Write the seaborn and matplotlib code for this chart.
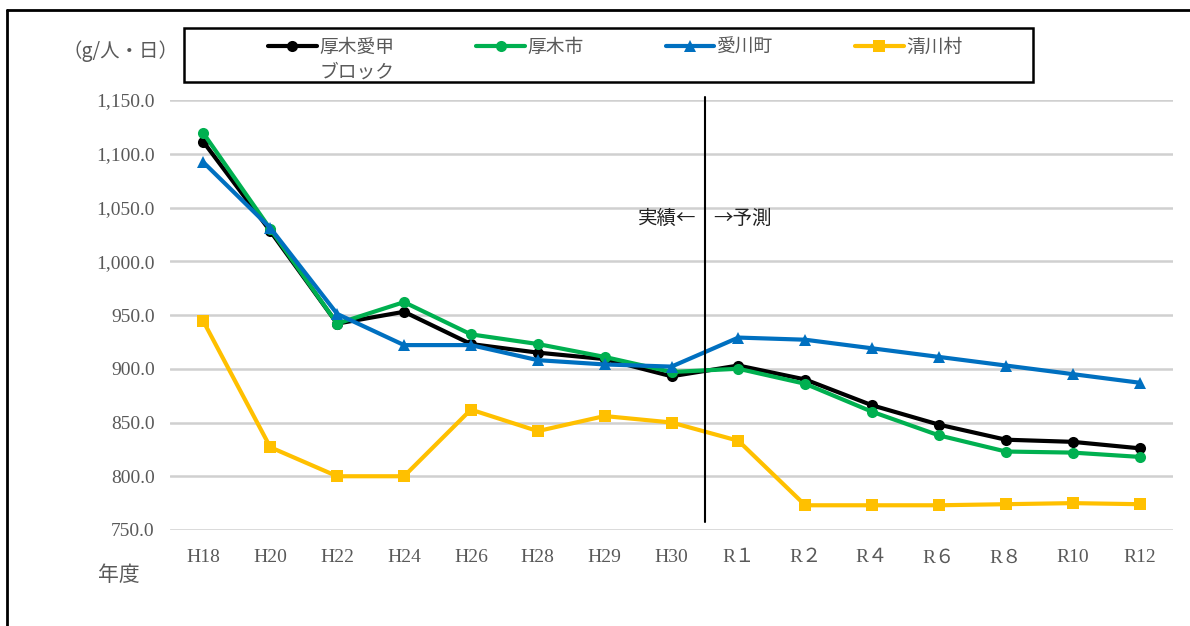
import matplotlib
matplotlib.use("Agg")
import matplotlib.pyplot as plt
import seaborn as sns
import pandas as pd
from matplotlib.lines import Line2D
from matplotlib.patches import Rectangle

years = ["H18", "H20", "H22", "H24", "H26", "H28", "H29", "H30",
         "R１", "R２", "R４", "R６", "R８", "R10", "R12"]
atsugi_aiko = [1111, 1028, 942, 953, 923, 915, 909, 893, 903, 890, 866, 848, 834, 832, 826]
atsugi_city = [1119, 1030, 942, 962, 932, 923, 911, 897, 900, 886, 860, 838, 823, 822, 818]
aikawa = [1092, 1031, 951, 922, 922, 908, 904, 902, 929, 927, 919, 911, 903, 895, 887]
kiyokawa = [944, 827, 800, 800, 862, 842, 856, 850, 833, 773, 773, 773, 774, 775, 774]
series_names = ["厚木愛甲\nブロック", "厚木市", "愛川町", "清川村"]
yticks = [750, 800, 850, 900, 950, 1000, 1050, 1100, 1150]

colors = ["#000000", "#00B050", "#0070C0", "#FFC000"]
markers = ["o", "o", "^", "s"]

rows = []
for name, vals in zip(series_names, [atsugi_aiko, atsugi_city, aikawa, kiyokawa]):
    for i, v in enumerate(vals):
        rows.append({"idx": i, "value": v, "series": name})
df = pd.DataFrame(rows)

sns.set_theme(style="white")
plt.rcParams["font.family"] = ["Noto Sans CJK JP", "DejaVu Sans"]
serif = ["Liberation Serif", "Noto Sans CJK JP"]

fig = plt.figure(figsize=(11.9, 6.26), dpi=100)
W, H = 1190, 626
ax = fig.add_axes([170 / W, 1 - 530 / H, (1173 - 170) / W, (530 - 100) / H])

sns.lineplot(data=df, x="idx", y="value", hue="series", style="series",
             palette=dict(zip(series_names, colors)),
             markers=dict(zip(series_names, markers)), dashes=False,
             linewidth=3, markersize=8, markeredgewidth=0, ax=ax, legend=False)

ax.set_xlim(-0.5, len(years) - 0.5)
ax.set_ylim(750, 1150)
ax.set_yticks(yticks)
ax.set_yticklabels([f"{v:,.1f}" for v in yticks], family=serif, fontsize=14, color="#595959")
ax.set_xticks(range(len(years)))
ax.set_xticklabels(years, family=serif, fontsize=14, color="#595959")
ax.tick_params(axis="y", length=0, pad=11)
ax.tick_params(axis="x", length=0, pad=14)
ax.grid(axis="y", color="#D0D0D0", linewidth=1.8)
ax.set_axisbelow(True)
for s in ax.spines.values():
    s.set_visible(False)
ax.set_xlabel("")
ax.set_ylabel("")

# boundary line between actual and forecast
ax.axvline(7.5, ymin=(530 - 522) / 430, ymax=(530 - 97) / 430, color="black",
           linewidth=1.5, clip_on=False)
ax.text(7.37, 1040, "実績←", ha="right", va="center", fontsize=14, color="#222222")
ax.text(7.62, 1040, "→予測", ha="left", va="center", fontsize=14, color="#222222")

fig.text(62 / W, 1 - 51 / H, "（g/人・日）", ha="left", va="center", fontsize=14, color="#595959")
fig.text(98 / W, 1 - 575 / H, "年度", ha="left", va="center", fontsize=15, color="#595959")

# legend frame
fig.add_artist(Rectangle((184 / W, 1 - 82 / H), (1033 - 184) / W, 54 / H, fill=False,
                         edgecolor="black", linewidth=1.8, transform=fig.transFigure))
handles = [Line2D([0], [0], color=c, marker=m, linewidth=3, markersize=8, markeredgewidth=0)
           for c, m in zip(colors, markers)]
legend_labels = [n.split("\n")[0] for n in series_names]
leg = fig.legend(handles, legend_labels, ncol=4, loc="center left",
                 bbox_to_anchor=(268 / W, 1 - 47 / H), frameon=False, fontsize=13.5,
                 handlelength=2.6, handletextpad=0.15, borderaxespad=0, borderpad=0,
                 columnspacing=4.35, labelcolor="#595959")
fig.canvas.draw()
t0 = leg.get_texts()[0]
bb = t0.get_window_extent()
cx = (bb.x0 + bb.x1) / 2 / fig.dpi / fig.get_size_inches()[0]
fig.text(cx, 1 - 72 / H, series_names[0].split("\n")[1], ha="center", va="center",
         fontsize=13.5, color="#595959")

# outer frame (left and top edges visible)
fig.add_artist(Line2D([7 / W, 7 / W], [0, 1 - 10 / H], color="black", linewidth=2, transform=fig.transFigure))
fig.add_artist(Line2D([7 / W, 1], [1 - 10 / H, 1 - 10 / H], color="black", linewidth=2, transform=fig.transFigure))

fig.savefig("out.png", dpi=100)
